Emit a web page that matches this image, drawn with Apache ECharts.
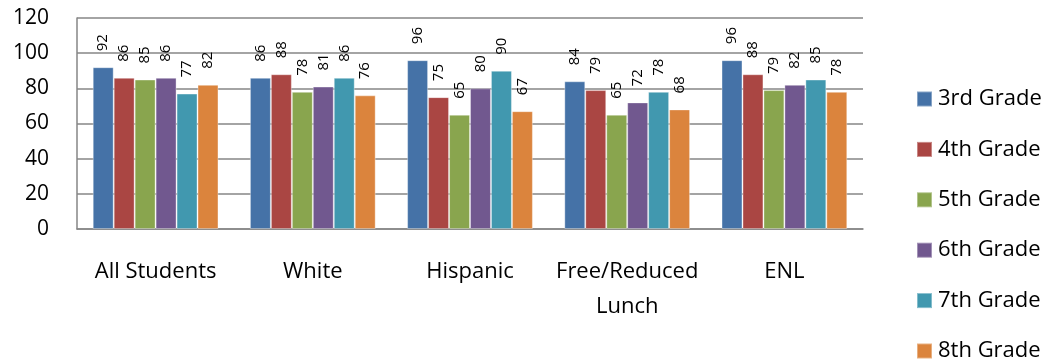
<!DOCTYPE html>
<html>
<head>
<meta charset="utf-8">
<script src="https://cdn.jsdelivr.net/npm/echarts@6/dist/echarts.min.js"></script>
<style>
  html, body { margin: 0; padding: 0; background: #fff; }
  #chart { width: 1049px; height: 364px; }
</style>
</head>
<body>
<div id="chart"></div>
<script>
// Student groups along the x axis
const categories = ['All Students', 'White', 'Hispanic', 'Free/Reduced\nLunch', 'ENL'];

// Percent passing per grade, one value per student group
const grade3 = [92, 86, 96, 84, 96];
const grade4 = [86, 88, 75, 79, 88];
const grade5 = [85, 78, 65, 65, 79];
const grade6 = [86, 81, 80, 72, 82];
const grade7 = [77, 86, 90, 78, 85];
const grade8 = [82, 76, 67, 68, 78];

const seriesNames = ['3rd Grade', '4th Grade', '5th Grade', '6th Grade', '7th Grade', '8th Grade'];
const seriesData = [grade3, grade4, grade5, grade6, grade7, grade8];
const colors = ['#4572A7', '#AA4643', '#89A54E', '#71588F', '#4198AF', '#DB843D'];

const font = '"Open Sans", "Liberation Sans", sans-serif';

const chart = echarts.init(document.getElementById('chart'), null, { renderer: 'canvas' });

chart.setOption({
  animation: false,
  color: colors,
  textStyle: { fontFamily: font },
  grid: { left: 77, right: 186, top: 18, bottom: 135, containLabel: false },
  legend: {
    orient: 'vertical',
    left: 916,
    top: 88,
    padding: 0,
    itemWidth: 15,
    itemHeight: 15,
    itemGap: 28.4,
    icon: 'rect',
    textStyle: { fontSize: 22, color: '#000', fontFamily: font, lineHeight: 22, padding: [0, 0, 0, 1] },
    data: seriesNames
  },
  xAxis: {
    type: 'category',
    data: categories,
    axisLine: { lineStyle: { color: '#868686', width: 1.5 } },
    axisTick: { show: false },
    axisLabel: { fontSize: 22, color: '#000', margin: 25, lineHeight: 35, fontFamily: font, interval: 0 }
  },
  yAxis: {
    type: 'value',
    min: 0,
    max: 120,
    interval: 20,
    axisLine: { show: true, lineStyle: { color: '#868686', width: 1.5 } },
    axisTick: { show: false },
    splitLine: { lineStyle: { color: '#868686', width: 1.5 } },
    axisLabel: { fontSize: 21, color: '#000', margin: 28, fontFamily: font }
  },
  series: seriesNames.map((name, i) => ({
    name: name,
    type: 'bar',
    data: seriesData[i],
    barGap: '0%',
    barCategoryGap: '20%',
    itemStyle: { borderColor: 'rgba(255,255,255,0.35)', borderWidth: 1 },
    label: {
      show: true,
      position: 'top',
      rotate: 90,
      align: 'left',
      verticalAlign: 'middle',
      distance: 16,
      fontSize: 15,
      color: '#000',
      fontFamily: font
    }
  }))
});
</script>
</body>
</html>
